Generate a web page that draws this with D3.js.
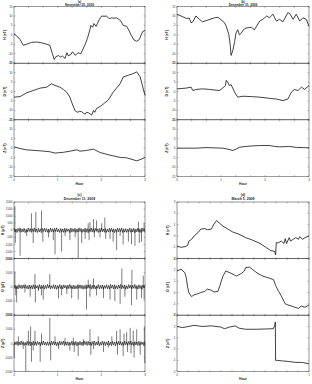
<!DOCTYPE html>
<html><head><meta charset="utf-8">
<script src="https://cdn.jsdelivr.net/npm/d3@7"></script>
<style>body{margin:0;background:#fff}svg{display:block}</style>
</head><body><svg id="c" width="312" height="384"></svg>
<script>
// ---- data (hour, value) ----
const aH=[[0,0.5],[0.06,-0.5],[0.14,-2.5],[0.21,-5.5],[0.29,-5],[0.4,-4],[0.52,-3.8],[0.63,-4.2],[0.75,-5],[0.82,-5.5],[0.88,-10],[0.92,-13],[0.96,-11.5],[1.02,-11],[1.07,-11.8],[1.11,-11.2],[1.17,-12.5],[1.21,-9.5],[1.24,-11],[1.3,-10.5],[1.34,-9],[1.4,-10.8],[1.47,-9.5],[1.53,-10],[1.57,-8],[1.63,-5],[1.68,-2],[1.73,2],[1.76,5],[1.8,4],[1.83,6],[1.88,4.5],[1.91,6],[1.95,8],[2.01,10],[2.06,9.8],[2.12,10],[2.18,8.5],[2.24,9],[2.29,8.8],[2.35,9],[2.4,8.2],[2.44,7.5],[2.5,5],[2.58,4.5],[2.64,2],[2.69,-0.5],[2.75,-2.8],[2.81,-3.4],[2.87,-2.5],[2.92,0.5],[2.96,2],[3,2.3]];
const aD=[[0,-3],[0.14,-2.7],[0.29,-0.7],[0.44,0.5],[0.6,1.8],[0.75,2.3],[0.86,4.1],[0.94,3.2],[1.05,2.3],[1.13,1.1],[1.21,-0.4],[1.28,-3],[1.32,-5.7],[1.4,-10.2],[1.45,-11],[1.5,-10.5],[1.55,-10.7],[1.59,-11.5],[1.63,-12],[1.66,-11],[1.7,-11.2],[1.74,-11.8],[1.78,-12.5],[1.82,-10],[1.85,-11],[1.89,-9],[1.97,-8],[2.08,-6],[2.16,-4.5],[2.2,-3],[2.27,-0.4],[2.43,4.1],[2.5,7.7],[2.62,8.6],[2.73,9.5],[2.81,10.4],[2.89,7.7],[2.95,2.3],[3,-2.1]];
const aZ=[[0,0.7],[0.14,-0.2],[0.29,-0.9],[0.6,-1.4],[0.82,-1.9],[0.94,-2.6],[1.13,-2.2],[1.28,-1.6],[1.44,-0.9],[1.51,-1.6],[1.66,-1.2],[1.82,-0.5],[1.97,-2.3],[2.2,-3.7],[2.43,-4.9],[2.58,-5.1],[2.81,-6.7],[2.92,-5.8],[3,-4.9]];

const bH=[[0,10.9],[0.09,10],[0.21,8.7],[0.28,8.8],[0.32,6.4],[0.36,6.9],[0.43,10],[0.51,8.2],[0.58,6.9],[0.7,7.8],[0.85,9],[0.93,9.3],[1,8],[1.08,6.4],[1.12,4.5],[1.18,0],[1.21,-5.5],[1.23,-10.9],[1.27,-8.2],[1.31,-3.6],[1.34,0.9],[1.38,2.7],[1.42,0],[1.46,0.9],[1.51,2.7],[1.57,3.6],[1.69,4],[1.76,2.7],[1.88,7.3],[1.95,8.2],[2.04,10],[2.1,9],[2.18,10.9],[2.26,7.3],[2.33,8.2],[2.41,6.9],[2.52,11.8],[2.56,11.3],[2.64,8.2],[2.71,10.9],[2.79,7.3],[2.86,9],[2.94,8.2],[3,4.5]];
const bD=[[0,1.4],[0.21,1.8],[0.32,2.3],[0.36,0.5],[0.43,1.1],[0.58,1.4],[0.74,1.1],[0.96,0.5],[1.04,1.8],[1.1,3.2],[1.12,5.9],[1.15,5],[1.19,3.2],[1.23,3.6],[1.31,-0.4],[1.38,-3],[1.5,-2.5],[1.69,-2.7],[1.88,-3],[2.1,-3.6],[2.26,-4],[2.41,-4.8],[2.52,-4],[2.6,-0.4],[2.67,1.1],[2.75,0.5],[2.83,2.3],[2.9,1.1],[3,3.2]];
const bZ=[[0,0],[0.43,0],[0.66,0.3],[1.04,0],[1.15,-0.5],[1.27,-1.2],[1.34,-0.5],[1.42,0.5],[1.57,0.9],[1.72,1.2],[1.88,1.4],[2.1,1.4],[2.22,0.9],[2.33,0.7],[2.56,0.9],[2.71,0.4],[3,0.2]];

// panel (c): background band values + isolated spikes
const cBand=[150,-120,90,-160,130,-80,170,-140,100,-110,140,-170,80,-130,160,-90,120,-150,110,-100,170,-130,90,-160,140,-120,100,-170,130,-80,150,-110,120,-140,90,-150,160,-100,110,-130,140,-90,170,-120,80,-160,130,-110,100,-150,150,-140,120,-80,90,-170,160,-130,110,-100,140,-160,100,-120,170,-90,130,-150,80,-110,150,-140,120,-170,90,-100,160,-130,110,-150,140,-80,100,-160,130,-120,170,-110,90,-140,120,-150,80,-130,160,-100,140,-120,110,-170,90,-140,150,-110,130,-90,170,-160,100,-130,120,-150,80,-100,160,-140,110,-120,140,-170,90,-110,150,-130,100,-160,170,-90,130,-150];
const cHspk=[[0.02,1700],[0.03,-900],[0.14,-1800],[0.29,-400],[0.4,1200],[0.44,-900],[0.5,1300],[0.63,1400],[0.66,-800],[0.79,-500],[0.9,-700],[0.94,-1700],[1.09,-1500],[1.17,-400],[1.28,-700],[1.4,-500],[1.47,-2000],[1.55,-900],[1.63,-600],[1.7,500],[1.72,-700],[1.74,600],[1.82,800],[1.84,-500],[1.89,700],[1.97,-500],[2.01,500],[2.08,900],[2.1,-600],[2.2,-600],[2.27,-800],[2.35,-1400],[2.43,-400],[2.5,-1000],[2.62,-800],[2.69,-1000],[2.77,-1100],[2.85,600],[2.87,-900],[2.92,-800],[2.98,500]];
const cDspk=[[0.02,1100],[0.04,-600],[0.06,-1100],[0.25,-400],[0.37,-700],[0.48,900],[0.49,-1100],[0.56,-300],[0.63,-600],[0.67,-900],[0.82,900],[1.02,-800],[1.09,-600],[1.21,-500],[1.32,-800],[1.47,-900],[1.66,-1600],[1.7,500],[1.74,-700],[1.82,600],[1.89,-600],[2.05,-800],[2.2,-900],[2.31,-1000],[2.43,-1200],[2.47,1300],[2.54,-700],[2.69,-1300],[2.7,1200],[2.81,-900],[2.92,-800],[2.96,800],[2.98,-900]];
const cZspk=[[0.005,-1000],[0.1,500],[0.21,-400],[0.27,-2000],[0.33,900],[0.38,1200],[0.4,-1300],[0.44,-500],[0.48,900],[0.6,-1300],[0.63,700],[0.82,1800],[0.84,-1200],[0.94,500],[1.02,-400],[1.17,400],[1.28,-500],[1.36,400],[1.38,-600],[1.47,-900],[1.59,300],[1.74,1000],[1.76,-800],[1.82,-400],[1.93,500],[2.05,-600],[2.16,-300],[2.24,500],[2.35,900],[2.37,-800],[2.43,1000],[2.5,-900],[2.52,700],[2.58,800],[2.6,-600],[2.66,1100],[2.68,-700],[2.73,900],[2.75,-1000],[2.81,1000],[2.89,-800],[2.985,1200],[2.995,-1400]];

const dH=[[0,-0.9],[0.03,-1],[0.06,-0.95],[0.08,-0.85],[0.09,-0.45],[0.11,-0.3],[0.13,0],[0.16,0.3],[0.18,0.6],[0.21,0.65],[0.23,0.55],[0.26,0.6],[0.28,1.05],[0.3,1.36],[0.32,1.15],[0.35,0.85],[0.38,0.65],[0.42,0.36],[0.47,0.15],[0.52,-0.15],[0.57,-0.36],[0.63,-0.67],[0.68,-1.06],[0.71,-1.3],[0.74,-1.36],[0.747,-1.67],[0.752,-0.6],[0.77,-0.6],[0.79,-0.45],[0.81,-0.67],[0.82,-0.24],[0.83,-0.67],[0.85,-0.15],[0.86,-0.45],[0.88,-0.3],[0.9,-0.15],[0.92,-0.3],[0.93,-0.06],[0.95,-0.3],[0.97,-0.15],[1,0]];
const dD=[[0,1.9],[0.03,2.06],[0.06,1.75],[0.07,1.3],[0.08,0.5],[0.09,0],[0.11,-0.36],[0.13,-0.2],[0.16,-0.1],[0.18,0],[0.21,0.1],[0.23,0.3],[0.26,0.2],[0.28,0.05],[0.31,0.1],[0.325,0.6],[0.335,1],[0.35,1.5],[0.37,1.9],[0.41,1.7],[0.45,1.45],[0.49,1.7],[0.51,1.9],[0.52,2.2],[0.55,2.25],[0.57,2.05],[0.61,1.7],[0.65,1.45],[0.69,1.3],[0.73,1.15],[0.75,0.55],[0.77,0.1],[0.79,-0.3],[0.82,-1],[0.84,-1.1],[0.87,-1.2],[0.89,-1.3],[0.92,-1.4],[0.94,-1.2],[0.97,-1.3],[1,-1.1]];
const dZ=[[0,2],[0.04,1.9],[0.09,2],[0.13,2.1],[0.19,2],[0.26,2.05],[0.33,1.95],[0.36,1.8],[0.4,1.95],[0.44,2.05],[0.47,1.85],[0.52,1.75],[0.6,1.75],[0.68,1.78],[0.73,1.8],[0.74,2.1],[0.745,2.4],[0.747,-1],[0.76,-1],[0.8,-1.05],[0.85,-1.1],[0.9,-1.18],[0.95,-1.18],[1,-1.3]];

const titles=['November 25, 2009','December 31, 2009','December 11, 2009','March 5, 2009'];
const letters=['(a)','(b)','(c)','(d)'];
const nTicks=[-15,-10,-5,0,5,10,15];
const cTicksH=[-2000,-1500,-1000,-500,0,500,1000,1500,2000];
const cTicksDZ=[-2000,-1000,0,1000,2000];
const dTicks=[-2,-1,0,1,2,3];
const xLab3=['0','1','2','3'];
const xLab1=['0','1'];

function bandSeries(off){
  const n=cBand.length;
  return cBand.map((v,i)=>[i/(n-1)*3,cBand[(i+off)%n]]);
}

const FONT='Liberation Sans, Arial, sans-serif';
const svg=d3.select('#c');

const panels=[
  {x0:14,x1:145,top:6.5,bot:176.5,ylx:6,xmax:3,xt:9,lab:xLab3,lw:0.8,
   rows:[{lbl:'H (nT)',dom:[-15,15],ticks:nTicks,data:aH},{lbl:'D (nT)',dom:[-15,15],ticks:nTicks,data:aD},{lbl:'Z (nT)',dom:[-15,15],ticks:nTicks,data:aZ}]},
  {x0:177,x1:309,top:6.5,bot:176.5,ylx:168,xmax:3,xt:9,lab:xLab3,lw:0.8,
   rows:[{lbl:'H (nT)',dom:[-15,15],ticks:nTicks,data:bH},{lbl:'D (nT)',dom:[-15,15],ticks:nTicks,data:bD},{lbl:'Z (nT)',dom:[-15,15],ticks:nTicks,data:bZ}]},
  {x0:14,x1:145,top:202,bot:371.7,ylx:4,xmax:3,xt:9,lab:xLab3,lw:0.65,
   rows:[{lbl:'H (pT)',dom:[-2000,2000],ticks:cTicksH,data:bandSeries(0),spk:cHspk},{lbl:'D (pT)',dom:[-2000,2000],ticks:cTicksDZ,data:bandSeries(31),spk:cDspk},{lbl:'Z (pT)',dom:[-2000,2000],ticks:cTicksDZ,data:bandSeries(57),spk:cZspk}]},
  {x0:177,x1:309,top:202,bot:371.7,ylx:169,xmax:1,xt:12,lab:xLab1,lw:0.8,
   rows:[{lbl:'H (nT)',dom:[-2,3],ticks:dTicks,data:dH},{lbl:'D (nT)',dom:[-2,3],ticks:dTicks,data:dD},{lbl:'Z (nT)',dom:[-2,3],ticks:dTicks,data:dZ}]}
];

panels.forEach((p,pi)=>{
  const x=d3.scaleLinear().domain([0,p.xmax]).range([p.x0,p.x1]);
  const h=(p.bot-p.top)/3;
  const cx=(p.x0+p.x1)/2;
  const g=svg.append('g');
  const top=p.top<100;
  g.append('text').attr('x',cx).attr('y',top?2.9:195.5).attr('text-anchor','middle')
    .attr('font-family',FONT).attr('font-size',top?2.9:3.4).attr('font-weight','bold').attr('fill','#222').text(letters[pi]);
  g.append('text').attr('x',cx).attr('y',top?5.9:199.8).attr('text-anchor','middle')
    .attr('font-family',FONT).attr('font-size',top?3.2:3.5).attr('font-weight','bold').attr('fill','#222').text(titles[pi]);
  const xt=d3.range(p.xt+1).map(i=>i/p.xt*p.xmax);
  const line=d3.line();
  p.rows.forEach((r,ri)=>{
    const t0=p.top+ri*h,t1=t0+h;
    const y=d3.scaleLinear().domain(r.dom).range([t1,t0]);
    line.x(d=>x(d[0])).y(d=>y(d[1]));
    const sg=g.append('g');
    xt.forEach(v=>{
      sg.append('line').attr('x1',x(v)).attr('x2',x(v)).attr('y1',t1).attr('y2',t1-1.4).attr('stroke','#444').attr('stroke-width',0.4);
      sg.append('line').attr('x1',x(v)).attr('x2',x(v)).attr('y1',t0).attr('y2',t0+1.4).attr('stroke','#444').attr('stroke-width',0.4);
    });
    r.ticks.forEach(v=>{
      sg.append('line').attr('x1',p.x0).attr('x2',p.x0+1.4).attr('y1',y(v)).attr('y2',y(v)).attr('stroke','#444').attr('stroke-width',0.4);
      sg.append('line').attr('x1',p.x1).attr('x2',p.x1-1.4).attr('y1',y(v)).attr('y2',y(v)).attr('stroke','#444').attr('stroke-width',0.4);
      sg.append('text').attr('x',p.x0-1.5).attr('y',y(v)+1.1).attr('text-anchor','end')
        .attr('font-family',FONT).attr('font-size',3).attr('fill','#333').text(v);
    });
    sg.append('path').datum(r.data).attr('d',line)
      .attr('fill','none').attr('stroke','#111').attr('stroke-width',p.lw).attr('stroke-linejoin','round');
    if(r.spk){
      sg.selectAll('.spk').data(r.spk).enter().append('line')
        .attr('x1',d=>x(d[0])).attr('x2',d=>x(d[0])).attr('y1',y(0)).attr('y2',d=>y(d[1]))
        .attr('stroke','#111').attr('stroke-width',0.55);
    }
    sg.append('rect').attr('x',p.x0).attr('y',t0).attr('width',p.x1-p.x0).attr('height',h)
      .attr('fill','none').attr('stroke','#333').attr('stroke-width',0.5);
    sg.append('text').attr('transform',`translate(${p.ylx},${(t0+t1)/2}) rotate(-90)`)
      .attr('text-anchor','middle').attr('font-family',FONT).attr('font-size',3.4).attr('font-weight','bold')
      .attr('fill','#222').text(r.lbl);
  });
  const step=p.xt/(p.lab.length-1);
  p.lab.forEach((l,i)=>{
    g.append('text').attr('x',x(xt[i*step])).attr('y',p.bot+4.3).attr('text-anchor','middle')
      .attr('font-family',FONT).attr('font-size',3).attr('fill','#333').text(l);
  });
  g.append('text').attr('x',cx).attr('y',p.bot+8.5).attr('text-anchor','middle')
    .attr('font-family',FONT).attr('font-size',3.4).attr('font-weight','bold').attr('fill','#222').text('Hour');
});
</script></body></html>
